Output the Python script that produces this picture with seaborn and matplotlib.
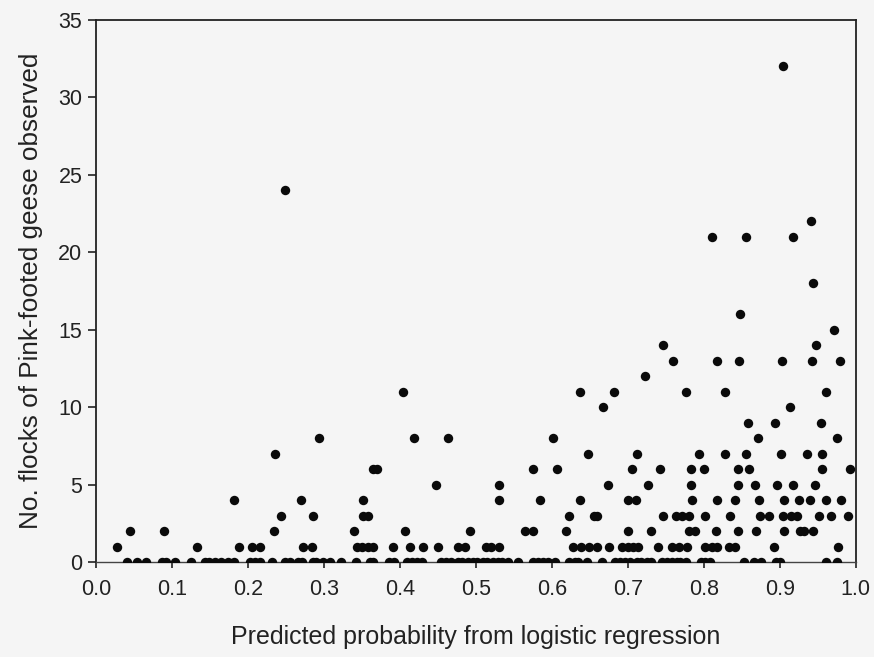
import matplotlib
matplotlib.use("Agg")
import matplotlib.pyplot as plt
import seaborn as sns
import pandas as pd

# Predicted probability of each site, grouped by number of flocks observed
x_count0 = [0.041, 0.054, 0.065, 0.087, 0.092, 0.104, 0.125, 0.143, 0.149, 0.156,
            0.165, 0.174, 0.181, 0.202, 0.209, 0.216, 0.232, 0.249, 0.255, 0.266,
            0.271, 0.285, 0.290, 0.299, 0.308, 0.323, 0.342, 0.361, 0.365, 0.385,
            0.392, 0.409, 0.416, 0.423, 0.429, 0.454, 0.460, 0.467, 0.476, 0.482,
            0.489, 0.496, 0.502, 0.509, 0.515, 0.522, 0.529, 0.535, 0.542, 0.555,
            0.575, 0.582, 0.588, 0.595, 0.604, 0.623, 0.630, 0.635, 0.646, 0.666,
            0.683, 0.690, 0.696, 0.703, 0.712, 0.718, 0.725, 0.731, 0.745, 0.751,
            0.758, 0.765, 0.769, 0.776, 0.796, 0.802, 0.808, 0.853, 0.866, 0.876,
            0.895, 0.901, 0.961, 0.976]
x_count1 = [0.027, 0.133, 0.188, 0.205, 0.216, 0.272, 0.284, 0.343, 0.350, 0.358,
            0.365, 0.391, 0.413, 0.430, 0.450, 0.477, 0.485, 0.513, 0.520, 0.531,
            0.628, 0.639, 0.649, 0.659, 0.675, 0.693, 0.700, 0.707, 0.714, 0.740,
            0.758, 0.767, 0.778, 0.802, 0.811, 0.817, 0.833, 0.841, 0.893, 0.977]
x_count2 = [0.044, 0.090, 0.234, 0.340, 0.407, 0.492, 0.564, 0.575, 0.618, 0.700,
            0.731, 0.780, 0.788, 0.816, 0.845, 0.869, 0.906, 0.927, 0.932, 0.944]
x_count3 = [0.244, 0.286, 0.352, 0.358, 0.622, 0.656, 0.660, 0.747, 0.764, 0.771,
            0.780, 0.801, 0.835, 0.874, 0.886, 0.904, 0.915, 0.923, 0.952, 0.968, 0.990]
x_count4 = [0.181, 0.270, 0.352, 0.530, 0.584, 0.637, 0.700, 0.711, 0.785, 0.817,
            0.841, 0.873, 0.906, 0.925, 0.940, 0.961, 0.981]
x_count5 = [0.448, 0.530, 0.674, 0.726, 0.783, 0.845, 0.867, 0.897, 0.918, 0.946]
x_count6 = [0.365, 0.370, 0.575, 0.607, 0.705, 0.743, 0.783, 0.800, 0.845, 0.860, 0.956, 0.992]
x_count7 = [0.236, 0.648, 0.712, 0.794, 0.828, 0.855, 0.902, 0.936, 0.956]
x_count8 = [0.294, 0.418, 0.463, 0.601, 0.872, 0.975]
x_count9 = [0.858, 0.894, 0.954]
x_count10 = [0.668, 0.914]
x_count11 = [0.404, 0.637, 0.682, 0.776, 0.828, 0.961]
x_count12 = [0.723]
x_count13 = [0.759, 0.818, 0.846, 0.903, 0.942, 0.979]
x_count14 = [0.746, 0.948]
x_count15 = [0.971]
x_count16 = [0.848]
x_count18 = [0.944]
x_count21 = [0.811, 0.855, 0.918]
x_count22 = [0.941]
x_count24 = [0.249]
x_count32 = [0.905]

groups = {0: x_count0, 1: x_count1, 2: x_count2, 3: x_count3, 4: x_count4,
          5: x_count5, 6: x_count6, 7: x_count7, 8: x_count8, 9: x_count9,
          10: x_count10, 11: x_count11, 12: x_count12, 13: x_count13,
          14: x_count14, 15: x_count15, 16: x_count16, 18: x_count18,
          21: x_count21, 22: x_count22, 24: x_count24, 32: x_count32}

x_ticks = [0.0, 0.1, 0.2, 0.3, 0.4, 0.5, 0.6, 0.7, 0.8, 0.9, 1.0]
x_tick_labels = ["0.0", "0.1", "0.2", "0.3", "0.4", "0.5", "0.6", "0.7", "0.8", "0.9", "1.0"]
y_ticks = [0, 5, 10, 15, 20, 25, 30, 35]

rows = []
for cnt, xs in groups.items():
    for xv in xs:
        rows.append({"prob": xv, "flocks": cnt})
df = pd.DataFrame(rows)

sns.set_style("ticks")
plt.rcParams['font.family'] = ['Liberation Sans', 'DejaVu Sans']

bg = "#f5f5f5"
fig = plt.figure(figsize=(8.74, 6.57), dpi=100, facecolor=bg)
ax = fig.add_axes([0.110, 0.1446, 0.869, 0.825])
ax.set_facecolor(bg)

sns.scatterplot(data=df, x="prob", y="flocks", ax=ax, color="#0a0a0a",
                s=46, edgecolor="#0a0a0a", linewidth=0, legend=False, zorder=3)

ax.set_xlim(0, 1.0)
ax.set_ylim(0, 35)
ax.set_xticks(x_ticks)
ax.set_xticklabels(x_tick_labels)
ax.set_yticks(y_ticks)

for side in ["left", "bottom", "top", "right"]:
    ax.spines[side].set_visible(True)
    ax.spines[side].set_color("#222222")
    ax.spines[side].set_linewidth(1.3)
ax.spines["bottom"].set_linewidth(1.0)
ax.spines["bottom"].set_color("#444444")

ax.tick_params(axis="y", direction="out", length=6, width=1.2, labelsize=15.5,
               colors="#222222", pad=4)
ax.tick_params(axis="x", direction="out", length=4, width=1.2, labelsize=15.5,
               colors="#222222", pad=8)
ax.set_xlabel("Predicted probability from logistic regression", fontsize=18,
              color="#222222", labelpad=18)
ax.set_ylabel("No. flocks of Pink-footed geese observed", fontsize=18.8,
              color="#222222", labelpad=11)

fig.savefig("out.png", dpi=100, facecolor=bg)
